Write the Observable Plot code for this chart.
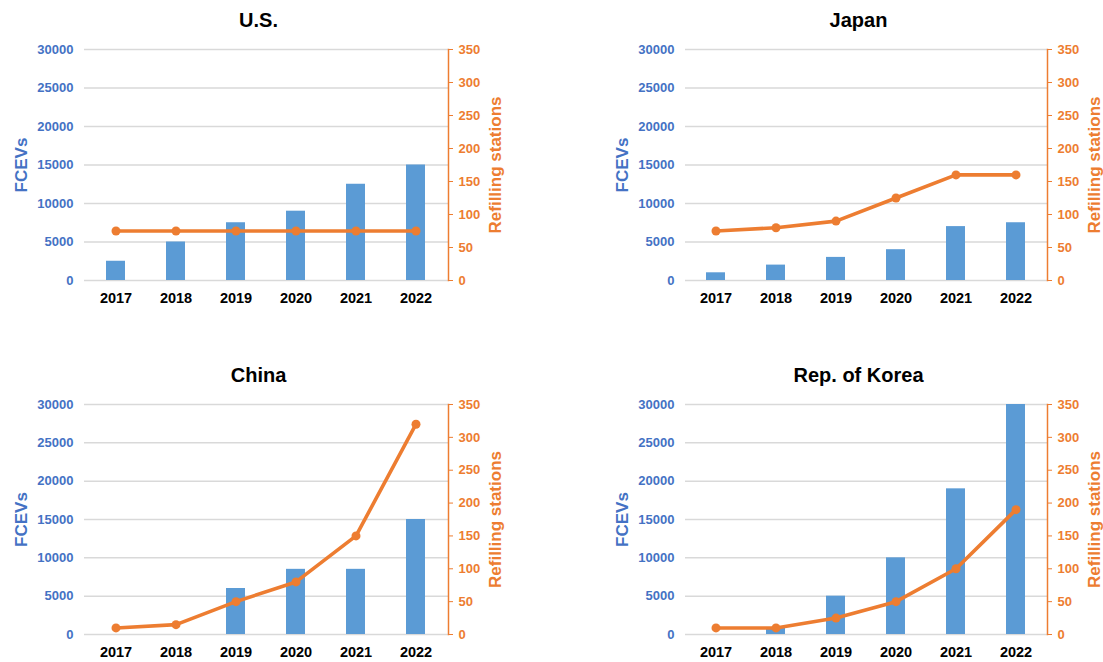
<!DOCTYPE html>
<html>
<head>
<meta charset="utf-8">
<script src="https://cdn.jsdelivr.net/npm/d3@7"></script>
<script src="https://cdn.jsdelivr.net/npm/@observablehq/plot@0.6"></script>
<style>
  html, body { margin: 0; padding: 0; background: #fff; }
  #chart { position: relative; width: 1103px; height: 662px; overflow: hidden; background: #fff; }
  #chart svg { position: absolute; max-width: none; }
</style>
</head>
<body>
<div id="chart"></div>
<script>
// Fuel-cell electric vehicles (bars, left axis) and hydrogen refilling stations (line, right axis)
const years = ["2017", "2018", "2019", "2020", "2021", "2022"];
const regions = ["U.S.", "Japan", "China", "Rep. of Korea"];

const fcevUS = [2500, 5000, 7500, 9000, 12500, 15000];
const stationsUS = [75, 75, 75, 75, 75, 75];

const fcevJapan = [1000, 2000, 3000, 4000, 7000, 7500];
const stationsJapan = [75, 80, 90, 125, 160, 160];

const fcevChina = [0, 0, 6000, 8500, 8500, 15000];
const stationsChina = [10, 15, 50, 80, 150, 320];

const fcevKorea = [0, 800, 5000, 10000, 19000, 30000];
const stationsKorea = [10, 10, 25, 50, 100, 190];

const fcevTicks = [0, 5000, 10000, 15000, 20000, 25000, 30000];
const stationTicks = [0, 50, 100, 150, 200, 250, 300, 350];

const BLUE = "#5B9BD5";
const BLUE_TEXT = "#4472C4";
const ORANGE = "#ED7D31";
const GRID = "#D9D9D9";
const FONT = "'Liberation Sans', Arial, sans-serif";
const plain = (d) => String(d);

// Plot frame of each panel, in page pixels
const panels = [
  {name: regions[0], fcev: fcevUS, stations: stationsUS, left: 84, right: 448, top: 49, bottom: 280},
  {name: regions[1], fcev: fcevJapan, stations: stationsJapan, left: 685, right: 1047, top: 49, bottom: 280},
  {name: regions[2], fcev: fcevChina, stations: stationsChina, left: 84, right: 448, top: 404, bottom: 634},
  {name: regions[3], fcev: fcevKorea, stations: stationsKorea, left: 685, right: 1047, top: 404, bottom: 634}
];

const ML = 84, MR = 110, MT = 49, MB = 40;
const chart = document.getElementById("chart");

for (const p of panels) {
  const data = years.map((year, i) => ({year, fcev: p.fcev[i], stations: p.stations[i]}));
  const pw = p.right - p.left;
  const ph = p.bottom - p.top;
  const common = {
    width: ML + pw + MR,
    height: MT + ph + MB,
    marginLeft: ML, marginRight: MR, marginTop: MT, marginBottom: MB,
    style: {background: "transparent", overflow: "visible", fontFamily: FONT}
  };
  const xBand = {type: "band", domain: years, paddingInner: 0.68, paddingOuter: 0.34};

  // Bars with the FCEV axis, gridlines, years and title
  const bars = Plot.plot({
    ...common,
    x: xBand,
    y: {domain: [0, 30000]},
    marks: [
      Plot.gridY(fcevTicks, {stroke: GRID, strokeOpacity: 1, strokeWidth: 1.5}),
      Plot.barY(data, {x: "year", y: "fcev", fill: BLUE}),
      Plot.axisY(fcevTicks, {anchor: "left", tickSize: 0, tickPadding: 11, tickFormat: plain, fill: BLUE_TEXT,
        fontSize: 13, fontWeight: "bold", label: null}),
      Plot.axisX(years, {anchor: "bottom", tickSize: 0, tickPadding: 12, fill: "#000",
        fontSize: 14.5, fontWeight: "bold", label: null}),
      Plot.text([p.name], {frameAnchor: "top", lineAnchor: "middle", dx: -8, dy: -29,
        fontSize: 20, fontWeight: "bold", fill: "#000"}),
      Plot.text(["FCEVs"], {frameAnchor: "left", rotate: -90, textAnchor: "middle", lineAnchor: "middle",
        dx: -63, fontSize: 17, fontWeight: "bold", fill: BLUE_TEXT})
    ]
  });

  // Refilling stations line on its own scale, with the right-hand axis
  const line = Plot.plot({
    ...common,
    x: {...xBand, axis: null},
    y: {domain: [0, 350]},
    marks: [
      Plot.line(data, {x: "year", y: "stations", stroke: ORANGE, strokeWidth: 3.6}),
      Plot.dot(data, {x: "year", y: "stations", r: 4.5, fill: ORANGE, stroke: "none"}),
      Plot.frame({anchor: "right", stroke: ORANGE, strokeWidth: 1.5}),
      Plot.axisY(stationTicks, {anchor: "right", tickSize: 4, tickPadding: 6, tickFormat: plain,
        stroke: ORANGE, fill: ORANGE, fontSize: 13, fontWeight: "bold", label: null}),
      Plot.text(["Refilling stations"], {frameAnchor: "right", rotate: -90, textAnchor: "middle", lineAnchor: "middle",
        dx: 47, fontSize: 17, fontWeight: "bold", fill: ORANGE})
    ]
  });

  for (const svg of [bars, line]) {
    svg.style.left = (p.left - ML) + "px";
    svg.style.top = (p.top - MT) + "px";
    chart.appendChild(svg);
  }
}
</script>
</body>
</html>
